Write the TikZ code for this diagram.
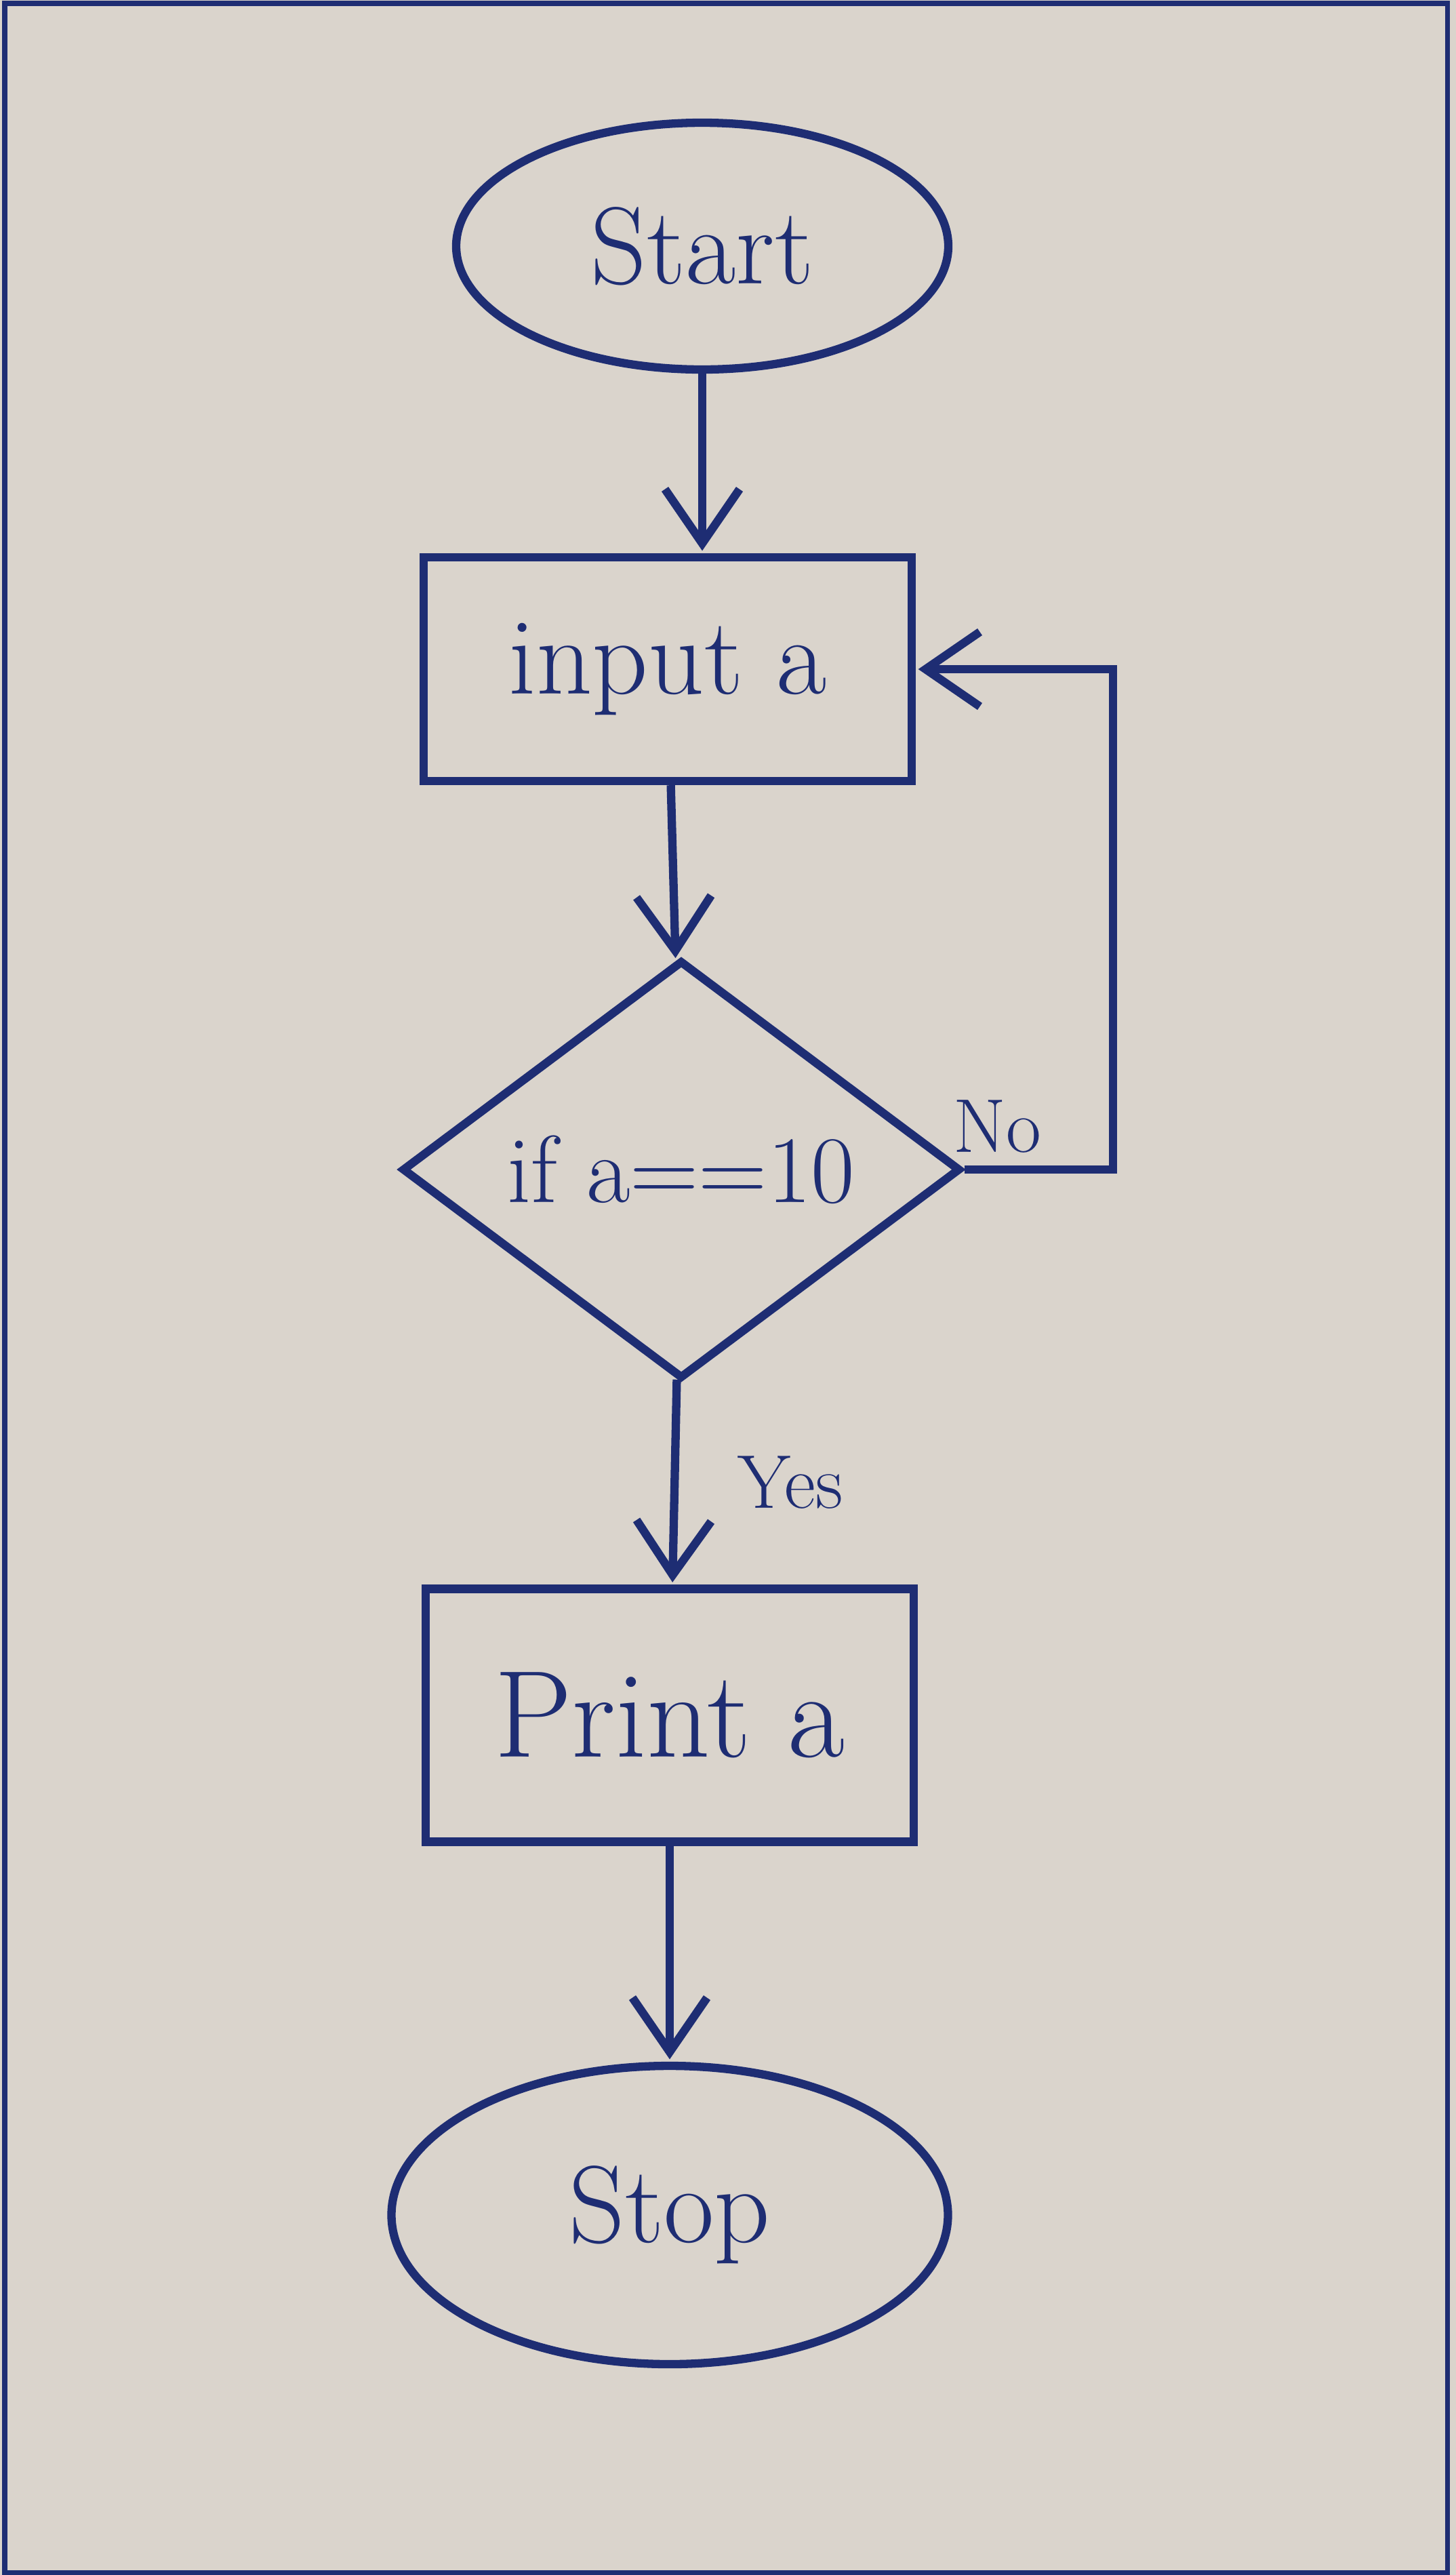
\documentclass[tikz,border=0pt]{standalone}
\usepackage{tikz}
\usetikzlibrary{arrows.meta,shapes,positioning}
\definecolor{ink}{RGB}{30,45,115}
\definecolor{paper}{RGB}{218,212,204}

\begin{document}
\begin{tikzpicture}[->,>={Straight Barb[length=8mm,width=11mm]},shorten >=1pt,auto,
	node distance=7cm,line width=3.5pt,color=ink,
	oval node/.style={ellipse,draw,font=\fontsize{46}{52}\selectfont},
	box node/.style={rectangle,draw,font=\fontsize{46}{52}\selectfont,minimum width=7.2cm,minimum height=3.3cm},
	test node/.style={diamond,draw,aspect=1.34,inner sep=0pt,font=\fontsize{40}{46}\selectfont,minimum width=8.24cm,minimum height=6.17cm}]

	\useasboundingbox (0,0) rectangle (21.48,-37.98);
	\fill[paper] (0,0) rectangle (21.48,-37.98);
	\draw[-,shorten >=0pt,line width=2pt] (0.07,-0.05) rectangle (21.35,-37.94);

	\node[oval node,minimum width=7.26cm,minimum height=3.64cm] (1) at (10.36,-3.63) {Start};
	\node[box node] (2) [node distance=6.24cm,below of=1,xshift=-0.51cm] {input a};
	\node[test node] (3) [node distance=7.38cm,below of=2,xshift=0.2cm] {if a==10};
	\node[box node,minimum height=3.73cm,font=\fontsize{52}{58}\selectfont] (4) [node distance=8.05cm,below of=3,xshift=-0.17cm] {Print a};
	\node[oval node,minimum width=8.21cm,minimum height=4.4cm] (5) [node distance=7.37cm,below of=4] {Stop};
	\coordinate (6) at (16.42,-13.5);

	\path[every node/.style={font=\fontsize{32}{38}\selectfont}]
	(1) edge (2.north -| 1)
	(2) edge (3)
	(3) edge node[xshift=0.75cm] {Yes} (4)
	(4) edge (5);
	\draw (3.east) -| node[pos=0.11,above=2pt,font=\fontsize{32}{38}\selectfont] {No} (6) |- (2.east);

	\end{tikzpicture}
\end{document}
